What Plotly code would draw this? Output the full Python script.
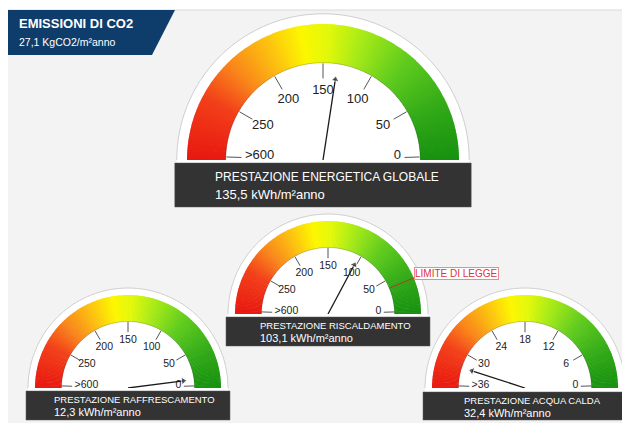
import numpy as np
import plotly.graph_objects as go

# page body margin (8px) is compensated: figure is drawn from window pixel (8, 8)
OFF = 8
W, H = 630 - OFF, 423 - OFF

# ---------------- data ----------------
co2_title = "EMISSIONI DI CO2"
co2_value_label = "27,1 KgCO2/m²anno"

gauge_titles = ["PRESTAZIONE ENERGETICA GLOBALE", "PRESTAZIONE RISCALDAMENTO",
                "PRESTAZIONE RAFFRESCAMENTO", "PRESTAZIONE ACQUA CALDA"]
gauge_values = [135.5, 103.1, 12.3, 32.4]
gauge_value_labels = ["135,5 kWh/m²anno", "103,1 kWh/m²anno",
                      "12,3 kWh/m²anno", "32,4 kWh/m²anno"]
gauge_scale_max = [300, 300, 300, 36]

tick_values_kwh = [0, 50, 100, 150, 200, 250, 300]
tick_labels_kwh = ["0", "50", "100", "150", "200", "250", ">600"]
tick_values_acs = [0, 6, 12, 18, 24, 30, 36]
tick_labels_acs = ["0", "6", "12", "18", "24", "30", ">36"]
gauge_ticks = [(tick_values_kwh, tick_labels_kwh), (tick_values_kwh, tick_labels_kwh),
               (tick_values_kwh, tick_labels_kwh), (tick_values_acs, tick_labels_acs)]

legal_limit_label = "LIMITE DI LEGGE"
legal_limit_riscaldamento = 38

# ---------------- styles / layout ----------------
FONT = "Liberation Sans, Arial, sans-serif"
grad_stops = [(0, "#179010"), (25, "#32aa18"), (50, "#5fcb1e"), (72, "#a6ea18"),
              (88, "#e2f80a"), (100, "#fcf700"), (115, "#fdc40f"), (135, "#f9841b"),
              (152, "#f2401a"), (180, "#e81810")]

gauges = [
    dict(cx=323, cy=160, R=136, bar_top=163, bar_bot=207, text_x=213, y1=177, y2=194,
         f_tick=13, f_cap=12, f_val=13),
    dict(cx=328, cy=314, R=93, bar_top=317, bar_bot=346, text_x=258, y1=325.5, y2=337.5,
         f_tick=10.5, f_cap=9.5, f_val=11),
    dict(cx=128, cy=388, R=93, bar_top=391, bar_bot=420, text_x=52, y1=399, y2=411.5,
         f_tick=10.5, f_cap=9.5, f_val=11),
    dict(cx=525, cy=388, R=93, bar_top=392, bar_bot=420, text_x=462, y1=400, y2=412.5,
         f_tick=10.5, f_cap=9.5, f_val=11),
]

R_IN, R_RIM, R_MAX = 0.715, 1.075, 1.09


def px(x):
    return (x - OFF) / W


def py(y):
    return 1 - (y - OFF) / H


def hex2rgb(h):
    h = h.lstrip("#")
    return [int(h[i:i + 2], 16) for i in (0, 2, 4)]


def grad_color(a):
    for (a0, c0), (a1, c1) in zip(grad_stops[:-1], grad_stops[1:]):
        if a0 <= a <= a1:
            t = (a - a0) / (a1 - a0)
            r0, r1 = hex2rgb(c0), hex2rgb(c1)
            c = [round(r0[k] + (r1[k] - r0[k]) * t) for k in range(3)]
            return "rgb(%d,%d,%d)" % tuple(c)
    return grad_stops[-1][1]


fig = go.Figure()
shapes = []
annotations = []
polars = {}

# background panel + banner
shapes.append(dict(type="rect", xref="paper", yref="paper", x0=px(7), x1=px(640),
                   y0=py(430), y1=py(10), fillcolor="#f3f3f3",
                   line=dict(color="#d9d9d9", width=1), layer="below"))
shapes.append(dict(type="path", xref="paper", yref="paper",
                   path="M %f %f L %f %f L %f %f L %f %f Z" % (px(7), py(10), px(175), py(10),
                                                              px(152), py(55), px(7), py(55)),
                   fillcolor="#0f3d6b", line=dict(width=0), layer="below"))
annotations.append(dict(text="<b>%s</b>" % co2_title, x=px(17), y=py(23), xref="paper", yref="paper",
                        xanchor="left", yanchor="middle", showarrow=False,
                        font=dict(color="white", size=13, family=FONT)))
annotations.append(dict(text=co2_value_label, x=px(17), y=py(42), xref="paper", yref="paper",
                        xanchor="left", yanchor="middle", showarrow=False,
                        font=dict(color="white", size=10.5, family=FONT)))

arc_t = np.linspace(0, 180, 181)
seg_c = np.arange(0.5, 180, 1.0)

for i, g in enumerate(gauges):
    sp = "polar" if i == 0 else "polar%d" % (i + 1)
    cx, cy, R = g["cx"], g["cy"], g["R"]
    Rd = R * R_MAX
    Rr = R * R_RIM
    polars[sp] = dict(
        domain=dict(x=[px(cx - Rd), px(cx + Rd)], y=[py(cy), py(cy - Rd)]),
        sector=[0, 180], hole=0, bgcolor="rgba(0,0,0,0)",
        radialaxis=dict(visible=False, range=[0, R_MAX]),
        angularaxis=dict(visible=False, rotation=0, direction="counterclockwise"),
    )
    smax = gauge_scale_max[i]

    def th(v):
        return v / smax * 180.0

    # white rim disc
    fig.add_trace(go.Barpolar(r=[R_RIM], theta=[90], width=[180], base=0,
                              marker=dict(color="white", line=dict(width=0)),
                              subplot=sp, hoverinfo="skip"))
    # gradient band
    fig.add_trace(go.Barpolar(r=[1 - R_IN] * len(seg_c), theta=seg_c, width=[1.4] * len(seg_c),
                              base=R_IN,
                              marker=dict(color=[grad_color(a) for a in seg_c], line=dict(width=0)),
                              subplot=sp, hoverinfo="skip"))
    # rim outline and band edges
    fig.add_trace(go.Scatterpolar(r=[R_RIM] * len(arc_t), theta=arc_t, mode="lines",
                                  line=dict(color="#cdcdcd", width=1), subplot=sp, hoverinfo="skip"))
    fig.add_trace(go.Scatterpolar(r=[R_IN] * len(arc_t), theta=arc_t, mode="lines",
                                  line=dict(color="rgba(0,0,0,0.25)", width=0.8), subplot=sp,
                                  hoverinfo="skip"))
    # ticks (end ticks nudged just above the base line, as in the original)
    tv, tl = gauge_ticks[i]
    tr, tt = [], []
    for k, v in enumerate(tv):
        a = th(v)
        if k == 0:
            a += 1.8
        elif k == len(tv) - 1:
            a -= 1.8
        tr += [0.60, 0.71, None]
        tt += [a, a, None]
    fig.add_trace(go.Scatterpolar(r=tr, theta=tt, mode="lines",
                                  line=dict(color="#555555", width=1), subplot=sp, hoverinfo="skip"))
    # tick labels
    fig.add_trace(go.Scatterpolar(r=[0.51] * (len(tv) - 2), theta=[th(v) for v in tv[1:-1]],
                                  mode="text", text=tl[1:-1], textposition="middle center",
                                  textfont=dict(color="#222222", size=g["f_tick"], family=FONT),
                                  subplot=sp, hoverinfo="skip"))
    fig.add_trace(go.Scatterpolar(r=[0.575], theta=[th(tv[0]) + 3], mode="text", text=[tl[0]],
                                  textposition="middle left",
                                  textfont=dict(color="#222222", size=g["f_tick"], family=FONT),
                                  subplot=sp, hoverinfo="skip"))
    fig.add_trace(go.Scatterpolar(r=[0.575], theta=[th(tv[-1]) - 3], mode="text", text=[tl[-1]],
                                  textposition="middle right",
                                  textfont=dict(color="#222222", size=g["f_tick"], family=FONT),
                                  subplot=sp, hoverinfo="skip"))
    # legal limit
    if i == 1:
        fig.add_trace(go.Scatterpolar(r=[R_IN, 1.0], theta=[th(legal_limit_riscaldamento)] * 2,
                                      mode="lines", line=dict(color="#a8402a", width=1),
                                      subplot=sp, hoverinfo="skip"))
    # needle
    tv_n = th(gauge_values[i])
    fig.add_trace(go.Scatterpolar(r=[0, 0.60], theta=[tv_n, tv_n], mode="lines+markers",
                                  line=dict(color="#1a1a1a", width=1.3),
                                  marker=dict(symbol=["circle", "triangle-up"], size=[5, 7],
                                              color="#1a1a1a", angleref="previous"),
                                  subplot=sp, hoverinfo="skip"))

    # white strip between arc base and bar, dark bar
    shapes.append(dict(type="rect", xref="paper", yref="paper", x0=px(cx - Rr), x1=px(cx + Rr),
                       y0=py(g["bar_top"]), y1=py(cy - 1), fillcolor="white",
                       line=dict(width=0), layer="below"))
    shapes.append(dict(type="rect", xref="paper", yref="paper", x0=px(cx - Rr - 2), x1=px(cx + Rr + 2),
                       y0=py(g["bar_bot"]), y1=py(g["bar_top"]), fillcolor="#333333",
                       line=dict(color="#555555", width=0.5), layer="below"))
    annotations.append(dict(text=gauge_titles[i], x=px(g["text_x"]), y=py(g["y1"]),
                            xref="paper", yref="paper", xanchor="left", yanchor="middle",
                            showarrow=False, font=dict(color="white", size=g["f_cap"], family=FONT)))
    annotations.append(dict(text=gauge_value_labels[i], x=px(g["text_x"]), y=py(g["y2"]),
                            xref="paper", yref="paper", xanchor="left", yanchor="middle",
                            showarrow=False, font=dict(color="white", size=g["f_val"], family=FONT)))

annotations.append(dict(text=legal_limit_label, x=px(414), y=py(279.5), xref="paper", yref="paper",
                        xanchor="left", yanchor="bottom", showarrow=False,
                        bgcolor="white", bordercolor="#f08a8a", borderwidth=1, borderpad=0,
                        font=dict(color="#e0333a", size=10, family=FONT)))

fig.update_layout(width=W, height=H, margin=dict(l=0, r=0, t=0, b=0),
                  paper_bgcolor="white", plot_bgcolor="white", showlegend=False,
                  font=dict(family=FONT), shapes=shapes, annotations=annotations, **polars)

fig.write_html("out.html")
